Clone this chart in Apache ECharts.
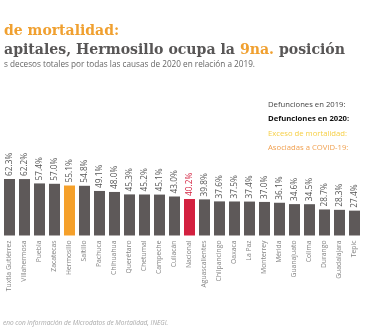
<!DOCTYPE html>
<html>
<head>
<meta charset="utf-8">
<script src="https://cdn.jsdelivr.net/npm/echarts@6/dist/echarts.min.js"></script>
<style>
  html, body { margin: 0; padding: 0; background: #ffffff; }
  #chart { width: 365px; height: 330px; }
</style>
</head>
<body>
<div id="chart"></div>
<script>
// Capitales ordenadas por exceso de mortalidad (% de aumento 2020 vs 2019)
const categories = [
  'Tuxtla Gutiérrez', 'Villahermosa', 'Puebla', 'Zacatecas', 'Hermosillo', 'Saltillo',
  'Pachuca', 'Chihuahua', 'Querétaro', 'Chetumal', 'Campeche', 'Culiacán',
  'Nacional', 'Aguascalientes', 'Chilpancingo', 'Oaxaca', 'La Paz', 'Monterrey',
  'Mérida', 'Guanajuato', 'Colima', 'Durango', 'Guadalajara', 'Tepic'
];
const excesoPct = [
  62.3, 62.2, 57.4, 57.0, 55.1, 54.8,
  49.1, 48.0, 45.3, 45.2, 45.1, 43.0,
  40.2, 39.8, 37.6, 37.5, 37.4, 37.0,
  36.1, 34.6, 34.5, 28.7, 28.3, 27.4
];
const legendLines = [
  'Defunciones en 2019:',
  'Defunciones en 2020:',
  'Exceso de mortalidad:',
  'Asociadas a COVID-19:'
];

const GRAY = '#5e5959';
const ORANGE = '#f5a02a';
const RED = '#d3203f';
const SANS = '"Open Sans", "Noto Sans", sans-serif';
const SERIF = '"DejaVu Serif", serif';

function barColor(name) {
  if (name === 'Hermosillo') return ORANGE;
  if (name === 'Nacional') return RED;
  return GRAY;
}

const chart = echarts.init(document.getElementById('chart'), null, { renderer: 'canvas' });

chart.setOption({
  animation: false,
  backgroundColor: '#ffffff',
  title: [
    {
      text: 'de mortalidad:',
      left: -1, top: 19,
      textStyle: { fontFamily: SERIF, fontWeight: 'bold', fontSize: 14, color: '#f0a030' }
    },
    {
      text: '{a|apitales, Hermosillo ocupa la }{b|9na.}{a| posición}',
      left: -1, top: 38,
      textStyle: {
        rich: {
          a: { fontFamily: SERIF, fontWeight: 'bold', fontSize: 14.1, color: '#585656' },
          b: { fontFamily: SERIF, fontWeight: 'bold', fontSize: 14.1, color: '#f0a030' }
        }
      }
    },
    {
      text: 's decesos totales por todas las causas de 2020 en relación a 2019.',
      left: -1, top: 56,
      textStyle: { fontFamily: SANS, fontWeight: 'normal', fontSize: 8.2, color: '#666666' }
    },
    {
      text: legendLines[0], left: 263, top: 96,
      textStyle: { fontFamily: SANS, fontWeight: 'normal', fontSize: 7.7, color: '#444444' }
    },
    {
      text: legendLines[1], left: 263, top: 110,
      textStyle: { fontFamily: SANS, fontWeight: 'bold', fontSize: 7.7, color: '#111111' }
    },
    {
      text: legendLines[2], left: 263, top: 125,
      textStyle: { fontFamily: SANS, fontWeight: 'normal', fontSize: 7.7, color: '#f6cf45' }
    },
    {
      text: legendLines[3], left: 263, top: 139,
      textStyle: { fontFamily: SANS, fontWeight: 'normal', fontSize: 7.7, color: '#f0a050' }
    },
    {
      text: 'eno con información de Microdatos de Mortalidad, INEGI.',
      left: -2, top: 315,
      textStyle: { fontFamily: SANS, fontStyle: 'italic', fontWeight: 'normal', fontSize: 6.5, color: '#a8a8a8' }
    }
  ],
  grid: { left: 2, width: 360, top: 172, height: 63.5, containLabel: false },
  xAxis: {
    type: 'category',
    data: categories,
    axisLine: { show: false },
    axisTick: { show: false },
    axisLabel: {
      rotate: 90,
      interval: 0,
      margin: 5,
      fontFamily: SANS,
      fontSize: 6.8,
      color: '#858585'
    }
  },
  yAxis: {
    type: 'value',
    min: 0,
    max: 70,
    show: false,
    splitLine: { show: false }
  },
  series: [{
    type: 'bar',
    data: excesoPct.map((v, i) => ({
      value: v,
      itemStyle: { color: barColor(categories[i]) },
      label: { color: categories[i] === 'Nacional' ? RED : '#555555' }
    })),
    barWidth: 11,
    label: {
      show: true,
      position: 'top',
      rotate: 90,
      align: 'left',
      verticalAlign: 'middle',
      distance: 3,
      fontFamily: SANS,
      fontSize: 8.3,
      formatter: p => p.value.toFixed(1) + '%'
    }
  }]
});
</script>
</body>
</html>
